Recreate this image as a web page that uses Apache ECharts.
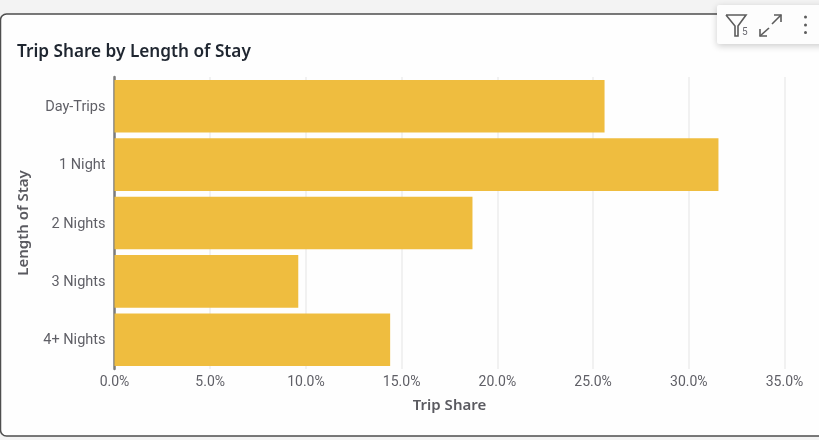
<!DOCTYPE html>
<html>
<head>
<meta charset="utf-8">
<style>
html,body{margin:0;padding:0;background:#f3f3f3;}
#chart{width:819px;height:440px;}
</style>
<script src="https://cdn.jsdelivr.net/npm/echarts@6/dist/echarts.min.js"></script>
</head>
<body>
<div id="chart"></div>
<script>
const categories = ['Day-Trips', '1 Night', '2 Nights', '3 Nights', '4+ Nights'];
const tripShare = [25.6, 31.55, 18.7, 9.6, 14.4];
const titleText = 'Trip Share by Length of Stay';
const xAxisName = 'Trip Share';
const yAxisName = 'Length of Stay';
const filterCount = '5';

const chart = echarts.init(document.getElementById('chart'), null, {renderer: 'canvas'});
const iconLine = {stroke: '#5c5c5c', lineWidth: 1.6, fill: null};
const nameFont = {fontFamily: 'Noto Sans', fontSize: 15, fontWeight: 600, color: '#5a5a60'};

chart.setOption({
  animation: false,
  backgroundColor: '#f3f3f3',
  title: {
    text: titleText,
    left: 12, top: 39,
    textStyle: {fontFamily: 'Noto Sans', fontSize: 17.2, fontWeight: 600, color: '#1f2630'}
  },
  grid: {left: 114.5, right: 34.5, top: 77, bottom: 71},
  xAxis: {
    type: 'value', min: 0, max: 35, interval: 5,
    name: xAxisName, nameLocation: 'middle', nameGap: 29.5,
    nameTextStyle: nameFont,
    axisLine: {show: false}, axisTick: {show: false},
    axisLabel: {formatter: v => v.toFixed(1) + '%', margin: 6, fontFamily: 'Roboto', fontSize: 14, color: '#5f5f66'},
    splitLine: {show: true, lineStyle: {color: '#ececec', width: 1.5}}
  },
  yAxis: {
    type: 'category', inverse: true, data: categories,
    name: yAxisName, nameLocation: 'middle', nameGap: 83,
    nameTextStyle: nameFont,
    axisLine: {show: true, onZero: false, lineStyle: {color: '#7b7b7b', width: 2.5}},
    axisTick: {show: false},
    axisLabel: {margin: 9, fontFamily: 'Roboto', fontSize: 14.5, color: '#5f5f66', verticalAlign: 'top', lineHeight: 14, padding: [-6, 0, 0, 0]}
  },
  series: [{
    type: 'bar',
    data: tripShare,
    barCategoryGap: '10%',
    itemStyle: {color: '#efbd3f'},
    z: 3
  }],
  graphic: [
    // card behind the plot
    {type: 'rect', z: -10, silent: true,
     shape: {x: 0.5, y: 14, width: 860, height: 422, r: 6},
     style: {fill: '#fefefe', stroke: '#4e4e4e', lineWidth: 1.5}},
    // toolbar panel at the top right
    {type: 'rect', z: 20, silent: true,
     shape: {x: 717, y: 5, width: 110, height: 39, r: 2},
     style: {fill: '#fdfdfd', shadowBlur: 7, shadowColor: 'rgba(0,0,0,0.2)', shadowOffsetY: 2}},
    // filter funnel
    {type: 'polyline', z: 21, silent: true,
     shape: {points: [[726, 15], [746, 15], [738, 26], [738, 36], [735, 36], [735, 26], [726, 15]]},
     style: iconLine},
    {type: 'text', z: 21, silent: true,
     style: {x: 742, y: 27, text: filterCount, fontFamily: 'Roboto', fontSize: 10, fill: '#6b6b72'}},
    // expand arrows
    {type: 'polyline', z: 21, silent: true,
     shape: {points: [[760, 36], [769, 28]]}, style: iconLine},
    {type: 'polyline', z: 21, silent: true,
     shape: {points: [[760, 29], [760, 36], [767, 36]]}, style: iconLine},
    {type: 'polyline', z: 21, silent: true,
     shape: {points: [[772, 24], [781, 15]]}, style: iconLine},
    {type: 'polyline', z: 21, silent: true,
     shape: {points: [[774, 15], [781, 15], [781, 22]]}, style: iconLine},
    // overflow menu dots
    {type: 'circle', z: 21, silent: true, shape: {cx: 805.5, cy: 17, r: 1.5}, style: {fill: '#5c5c5c'}},
    {type: 'circle', z: 21, silent: true, shape: {cx: 805.5, cy: 25, r: 1.5}, style: {fill: '#5c5c5c'}},
    {type: 'circle', z: 21, silent: true, shape: {cx: 805.5, cy: 32.5, r: 1.5}, style: {fill: '#5c5c5c'}}
  ]
});
</script>
</body>
</html>
